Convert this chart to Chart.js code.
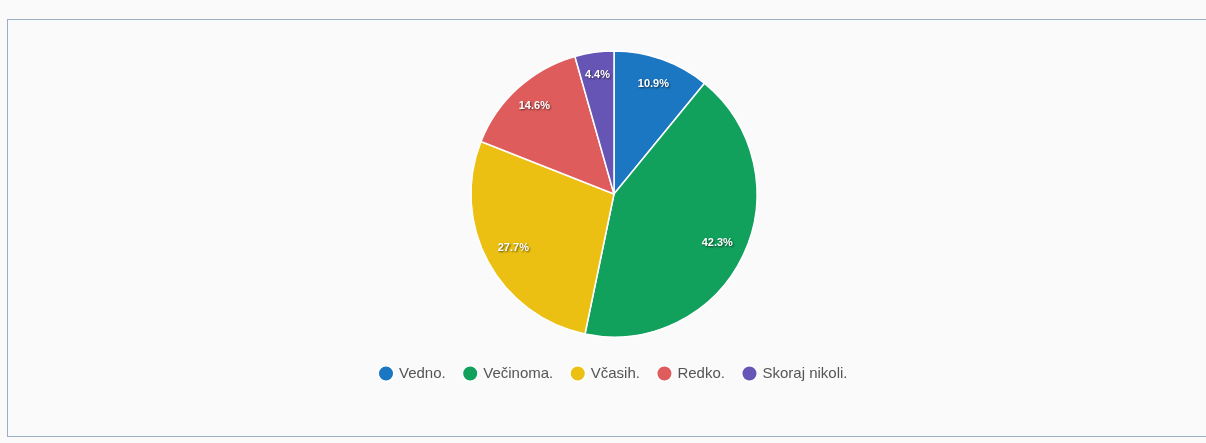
<!DOCTYPE html>
<html>
<head>
<meta charset="utf-8">
<script src="https://cdn.jsdelivr.net/npm/chart.js@4.4.1/dist/chart.umd.min.js"></script>
<style>
    html, body { margin: 0; padding: 0; background: #fafafa; }
    #frame {
        position: absolute; left: 7px; top: 19px; width: 1215px; height: 418px;
        border: 1px solid #9aaec4; box-sizing: border-box;
    }
    #wrap { position: absolute; left: 0; top: 0; width: 1206px; height: 443px; }
</style>
</head>
<body>
<div id="frame"></div>
<div id="wrap"><canvas id="pieChart"></canvas></div>
<script>
// =====================
//  DATA
// =====================
const ANSWER_LABELS = ["Vedno.", "Večinoma.", "Včasih.", "Redko.", "Skoraj nikoli."];
const ANSWER_PERCENT = [10.9, 42.3, 27.7, 14.6, 4.4];
const SLICE_COLORS = ["#1b77c2", "#12a15d", "#ebc012", "#df5c5c", "#6755b6"];

// distance of each % label from the centre, as a fraction of the radius
const LABEL_RADIUS = [0.82, 0.80, 0.80, 0.83, 0.84];

// =====================
//  PERCENT LABELS PLUGIN
// =====================
const percentLabels = {
    id: "percentLabels",
    afterDatasetsDraw(chart) {
        const ctx = chart.ctx;
        const meta = chart.getDatasetMeta(0);
        ctx.save();
        ctx.font = "bold 11px Arial, 'Liberation Sans', sans-serif";
        ctx.textAlign = "center";
        ctx.textBaseline = "middle";
        ctx.fillStyle = "#ffffff";
        ctx.shadowColor = "rgba(0, 0, 0, 0.6)";
        ctx.shadowBlur = 2;
        ctx.shadowOffsetX = 1;
        ctx.shadowOffsetY = 1;
        meta.data.forEach((arc, i) => {
            const mid = (arc.startAngle + arc.endAngle) / 2;
            const r = arc.outerRadius * LABEL_RADIUS[i];
            const x = arc.x + Math.cos(mid) * r;
            const y = arc.y + Math.sin(mid) * r;
            ctx.fillText(ANSWER_PERCENT[i].toFixed(1) + "%", x, y);
        });
        ctx.restore();
    }
};

// =====================
//  PIE CHART
// =====================
const pieCtx = document.getElementById("pieChart").getContext("2d");

let pieChart = new Chart(pieCtx, {
    type: "pie",
    data: {
        labels: ANSWER_LABELS,
        datasets: [
            {
                data: ANSWER_PERCENT,
                backgroundColor: SLICE_COLORS,
                borderColor: "#ffffff",
                borderWidth: 1.5,
                radius: 143
            }
        ]
    },
    options: {
        responsive: true,
        maintainAspectRatio: false,
        animation: false,
        layout: { padding: { top: 41, bottom: 52, left: 22 } },
        plugins: {
            legend: {
                position: "bottom",
                labels: {
                    usePointStyle: true,
                    pointStyle: "circle",
                    boxWidth: 11,
                    boxHeight: 11,
                    padding: 19,
                    color: "#555555",
                    font: { size: 15, family: "Arial, 'Liberation Sans', sans-serif" }
                }
            },
            tooltip: { enabled: false }
        }
    },
    plugins: [percentLabels]
});
</script>
</body>
</html>
